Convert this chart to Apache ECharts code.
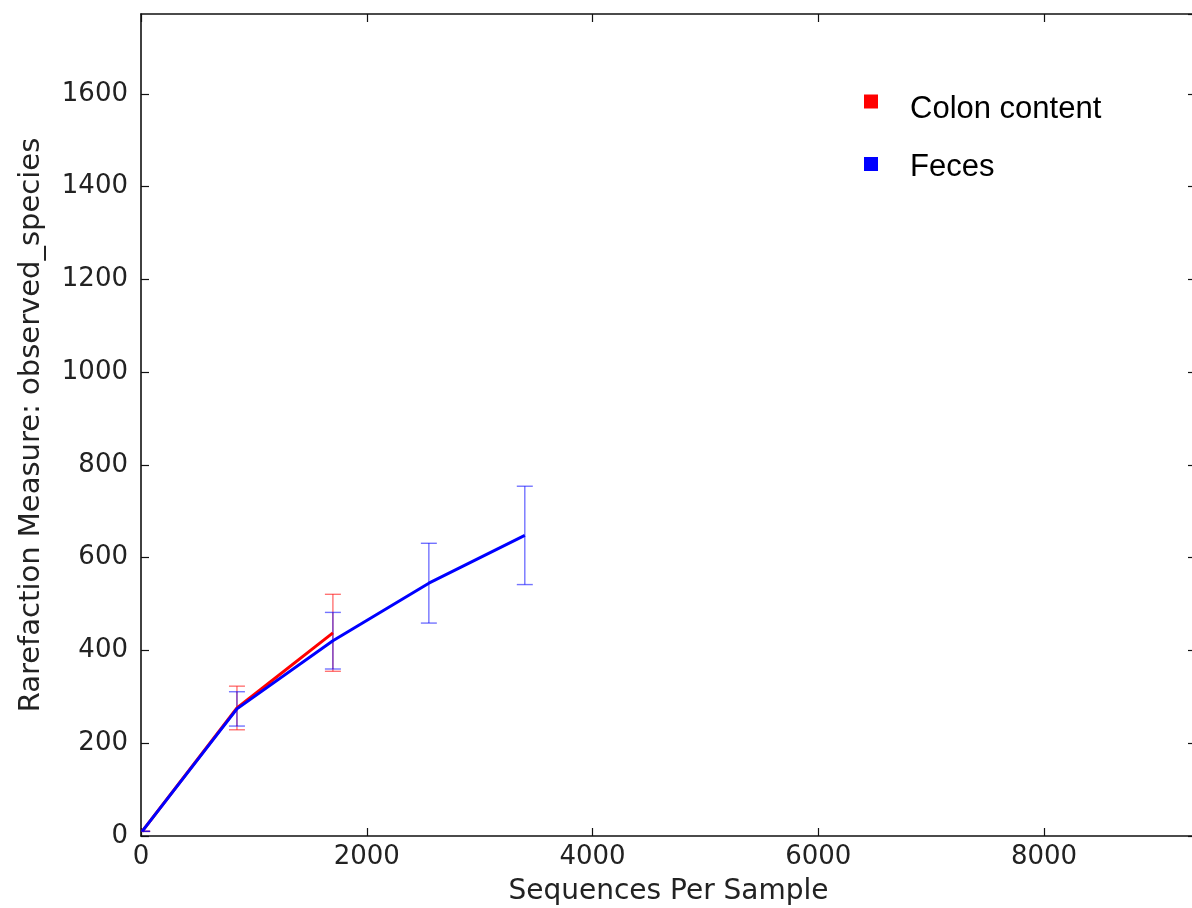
<!DOCTYPE html>
<html>
<head>
<meta charset="utf-8">
<script src="https://cdn.jsdelivr.net/npm/echarts@6/dist/echarts.min.js"></script>
<style>
html,body{margin:0;padding:0;background:#fff;overflow:hidden;}
#chart{width:1192px;height:908px;}
</style>
</head>
<body>
<div id="chart"></div>
<script>
// Data
const seriesNames = ['Colon content', 'Feces'];
const seqsPerSample = [10, 850, 1700, 2550, 3400];
const colonMean = [10, 276, 438];
const colonStd = [0, 47, 83];
const fecesMean = [10, 274, 421, 545, 648];
const fecesStd = [0, 37, 61, 86, 106];
const xTicks = [0, 2000, 4000, 6000, 8000];
const yTicks = [0, 200, 400, 600, 800, 1000, 1200, 1400, 1600];
const xMax = 9346;
const yMax = 1772;

const colors = ['#ff0000', '#0000ff'];
const tickFont = 'DejaVu Sans';

function pts(mean) { return mean.map((m, i) => [seqsPerSample[i], m]); }
function errs(mean, std) { return mean.map((m, i) => [seqsPerSample[i], m - std[i], m + std[i]]); }

function errRender(color) {
  return function (params, api) {
    const x = api.value(0), lo = api.value(1), hi = api.value(2);
    const a = api.coord([x, lo]);
    const b = api.coord([x, hi]);
    const w = 8;
    const st = { stroke: color, lineWidth: 1.4, opacity: 0.55 };
    return {
      type: 'group',
      children: [
        { type: 'line', shape: { x1: a[0], y1: a[1], x2: b[0], y2: b[1] }, style: st },
        { type: 'line', shape: { x1: a[0] - w, y1: a[1], x2: a[0] + w, y2: a[1] }, style: st },
        { type: 'line', shape: { x1: b[0] - w, y1: b[1], x2: b[0] + w, y2: b[1] }, style: st }
      ]
    };
  };
}

const chart = echarts.init(document.getElementById('chart'), null, { renderer: 'canvas' });

const baseX = {
  type: 'value', min: 0, max: xMax, interval: 2000,
  splitLine: { show: false },
  axisLine: { show: true, onZero: false, lineStyle: { color: '#111', width: 1.6 } },
  axisTick: { show: true, inside: true, length: 8, lineStyle: { color: '#111', width: 1.2 } }
};
const baseY = {
  type: 'value', min: 0, max: yMax, interval: 200,
  splitLine: { show: false },
  axisLine: { show: true, onZero: false, lineStyle: { color: '#111', width: 1.6 } },
  axisTick: { show: true, inside: true, length: 8, lineStyle: { color: '#111', width: 1.2 } }
};

const legendText = { fontFamily: 'Liberation Sans', fontSize: 31, color: '#000', lineHeight: 36 };

chart.setOption({
  backgroundColor: '#ffffff',
  animation: false,
  grid: { left: 141, top: 14, width: 1055, height: 822, containLabel: false, outerBoundsMode: 'none' },
  legend: {
    orient: 'vertical',
    left: 864, top: 78,
    padding: 0,
    itemWidth: 14, itemHeight: 14,
    itemGap: 20,
    icon: 'rect',
    data: seriesNames,
    formatter: name => (name === seriesNames[0] ? '{a|' + name + '}' : '{b|' + name + '}'),
    textStyle: {
      fontFamily: 'Liberation Sans', fontSize: 31, color: '#000',
      rich: {
        a: Object.assign({ padding: [16, 0, 0, 27] }, legendText),
        b: Object.assign({ padding: [7, 0, 0, 27] }, legendText)
      }
    }
  },
  xAxis: [
    Object.assign({}, baseX, {
      position: 'bottom',
      name: 'Sequences Per Sample', nameLocation: 'middle', nameGap: 42,
      nameTextStyle: { fontFamily: tickFont, fontSize: 28, color: '#222' },
      axisLabel: {
        show: true, margin: 8, showMaxLabel: false,
        fontFamily: tickFont, fontSize: 26, color: '#222',
        formatter: v => (xTicks.indexOf(v) >= 0 ? String(v) : '')
      }
    }),
    Object.assign({}, baseX, { position: 'top', axisLabel: { show: false } })
  ],
  yAxis: [
    Object.assign({}, baseY, {
      position: 'left',
      name: 'Rarefaction Measure: observed_species', nameLocation: 'middle', nameGap: 95,
      nameTextStyle: { fontFamily: tickFont, fontSize: 29, color: '#222' },
      axisLabel: {
        show: true, margin: 13, showMaxLabel: false,
        fontFamily: tickFont, fontSize: 26, color: '#222',
        formatter: v => (yTicks.indexOf(v) >= 0 ? String(v) : '')
      }
    }),
    Object.assign({}, baseY, { position: 'right', axisLabel: { show: false } })
  ],
  series: [
    {
      type: 'custom', name: 'colonErr', xAxisIndex: 0, yAxisIndex: 0,
      renderItem: errRender(colors[0]), data: errs(colonMean, colonStd), clip: true, z: 2
    },
    {
      type: 'custom', name: 'fecesErr', xAxisIndex: 0, yAxisIndex: 0,
      renderItem: errRender(colors[1]), data: errs(fecesMean, fecesStd), clip: true, z: 2
    },
    {
      type: 'line', name: seriesNames[0], xAxisIndex: 0, yAxisIndex: 0,
      data: pts(colonMean), color: colors[0], showSymbol: false, symbol: 'none',
      lineStyle: { color: colors[0], width: 3 }, z: 3
    },
    {
      type: 'line', name: seriesNames[1], xAxisIndex: 0, yAxisIndex: 0,
      data: pts(fecesMean), color: colors[1], showSymbol: false, symbol: 'none',
      lineStyle: { color: colors[1], width: 3 }, z: 4
    }
  ]
});
</script>
</body>
</html>
